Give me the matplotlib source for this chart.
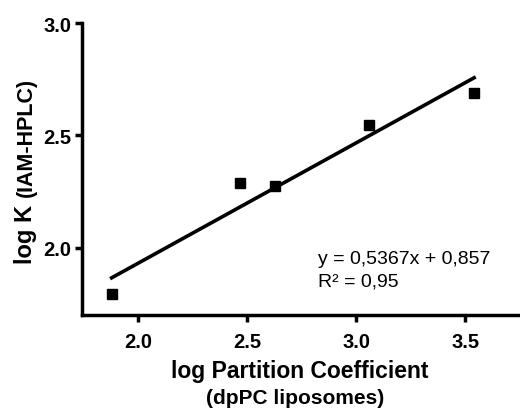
import numpy as np
import matplotlib
matplotlib.use("Agg")
import matplotlib.pyplot as plt

# data
log_pc = [1.88, 2.47, 2.63, 3.06, 3.54]
log_k = [1.795, 2.29, 2.275, 2.545, 2.69]
slope = 0.5367
intercept = 0.857
r2 = 0.95
x_ticks = [2.0, 2.5, 3.0, 3.5]
y_ticks = [2.0, 2.5, 3.0]

plt.rcParams['font.family'] = ['Liberation Sans', 'DejaVu Sans']

fig = plt.figure(figsize=(5.2, 4.1), dpi=100)
ax = fig.add_axes([0.158, 0.229, 0.842, 0.712])

ax.plot(log_pc, log_k, 's', color='black', markersize=7, clip_on=False)
x_fit = np.array([min(log_pc), max(log_pc)])
ax.plot(x_fit, slope * x_fit + intercept, color='black', linewidth=2.6)

# fit equation, decimal commas as in the original
ax.text(2.825, 1.933, f"y = {slope:.4f}x + {intercept:.3f}".replace('.', ','),
        fontsize=14, va='baseline', ha='left')
ax.text(2.825, 1.83, f"R\u00b2 = {r2:.2f}".replace('.', ','),
        fontsize=14, va='baseline', ha='left')

ax.set_xlim(1.745, 3.75)
ax.set_ylim(1.70, 3.0)
ax.set_xticks(x_ticks)
ax.set_yticks(y_ticks)
ax.set_xticklabels([f"{t:.1f}" for t in x_ticks], fontweight='bold', fontsize=14.5)
ax.set_yticklabels([f"{t:.1f}" for t in y_ticks], fontweight='bold', fontsize=14.5)
ax.tick_params(width=2.5, length=5, direction='out')
ax.tick_params(axis='x', pad=7)
ax.tick_params(axis='y', pad=3)

for s in ['top', 'right']:
    ax.spines[s].set_visible(False)
for s in ['left', 'bottom']:
    ax.spines[s].set_linewidth(2.5)

fig.text(0.577, 0.093, "log Partition Coefficient", ha='center', va='center',
         fontsize=16.5, fontweight='bold')
fig.text(0.567, 0.029, "(dpPC liposomes)", ha='center', va='center',
         fontsize=15, fontweight='bold')
fig.text(0.062, 0.429, "log K", ha='center', va='baseline', rotation=90,
         rotation_mode='anchor', fontsize=17, fontweight='bold')
fig.text(0.062, 0.666, "(IAM-HPLC)", ha='center', va='baseline', rotation=90,
         rotation_mode='anchor', fontsize=15.5, fontweight='bold')

fig.savefig("out.png", dpi=100)
